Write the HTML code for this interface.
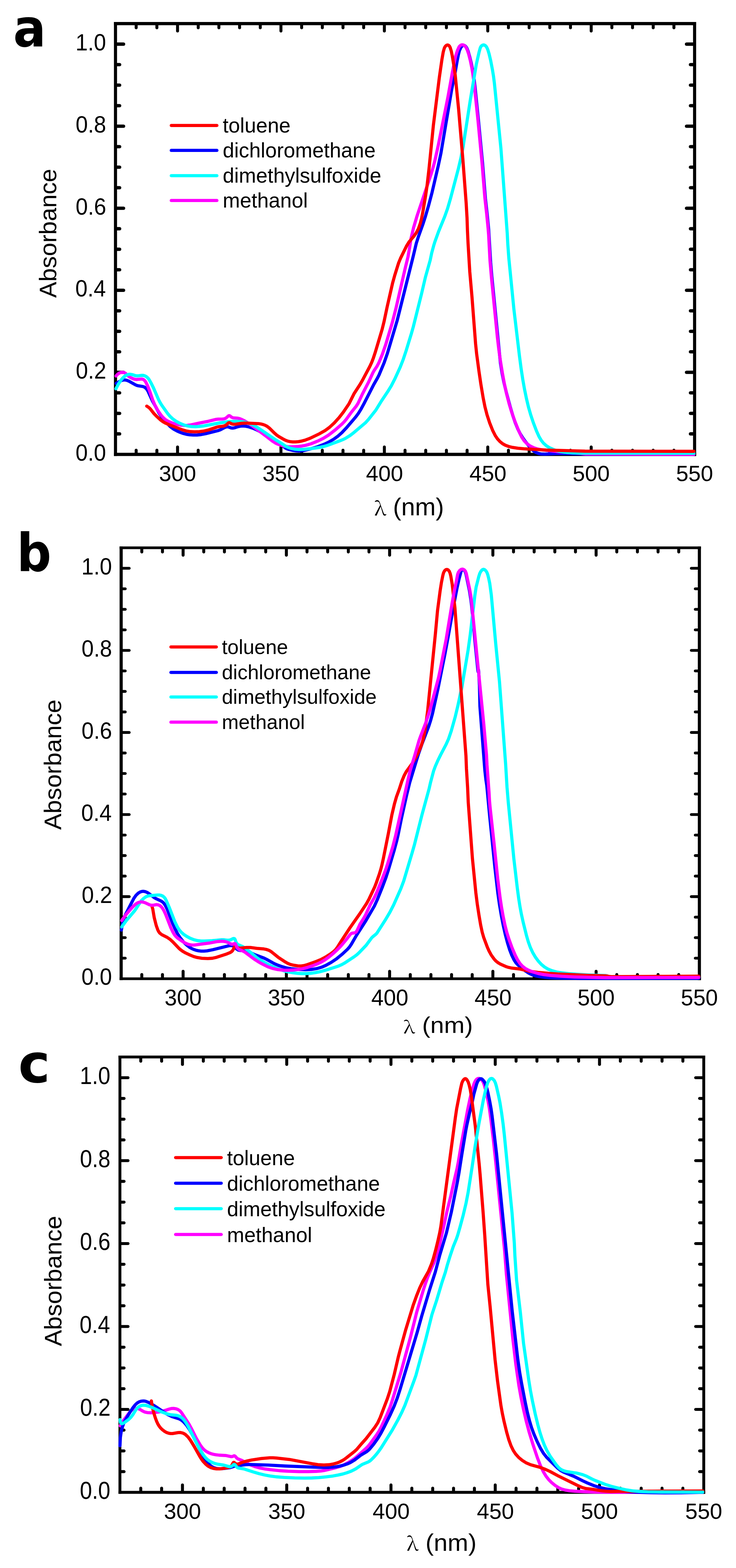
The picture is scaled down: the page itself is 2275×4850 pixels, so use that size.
<!DOCTYPE html>
<html><head><meta charset="utf-8"><title>Absorbance spectra</title>
<style>html,body{margin:0;padding:0;background:#fff;width:2275px;height:4850px;overflow:hidden}svg{display:block}text{font-kerning:none}</style></head>
<body><svg xmlns="http://www.w3.org/2000/svg" width="2275" height="4850" viewBox="0 0 2275 4850">
<rect width="100%" height="100%" fill="#fff"/>
<path d="M420.9 1400.9V1392.5M420.9 77.6V86.0M484.9 1400.9V1392.5M484.9 77.6V86.0M548.8 1400.9V1382.5M548.8 77.6V96.0M612.7 1400.9V1392.5M612.7 77.6V86.0M676.6 1400.9V1392.5M676.6 77.6V86.0M740.6 1400.9V1392.5M740.6 77.6V86.0M804.5 1400.9V1392.5M804.5 77.6V86.0M868.4 1400.9V1382.5M868.4 77.6V96.0M932.4 1400.9V1392.5M932.4 77.6V86.0M996.3 1400.9V1392.5M996.3 77.6V86.0M1060.2 1400.9V1392.5M1060.2 77.6V86.0M1124.1 1400.9V1392.5M1124.1 77.6V86.0M1188.1 1400.9V1382.5M1188.1 77.6V96.0M1252.0 1400.9V1392.5M1252.0 77.6V86.0M1315.9 1400.9V1392.5M1315.9 77.6V86.0M1379.9 1400.9V1392.5M1379.9 77.6V86.0M1443.8 1400.9V1392.5M1443.8 77.6V86.0M1507.7 1400.9V1382.5M1507.7 77.6V96.0M1571.6 1400.9V1392.5M1571.6 77.6V86.0M1635.6 1400.9V1392.5M1635.6 77.6V86.0M1699.5 1400.9V1392.5M1699.5 77.6V86.0M1763.4 1400.9V1392.5M1763.4 77.6V86.0M1827.4 1400.9V1382.5M1827.4 77.6V96.0M1891.3 1400.9V1392.5M1891.3 77.6V86.0M1955.2 1400.9V1392.5M1955.2 77.6V86.0M2019.1 1400.9V1392.5M2019.1 77.6V86.0M2083.1 1400.9V1392.5M2083.1 77.6V86.0" stroke="#000" stroke-width="9.2" stroke-linecap="round" fill="none"/>
<path d="M362.1 1342.0H369.8M2141.8 1342.0H2134.2M362.1 1278.6H369.8M2141.8 1278.6H2134.2M362.1 1215.1H369.8M2141.8 1215.1H2134.2M362.1 1151.7H382.0M2141.8 1151.7H2122.0M362.1 1088.2H369.8M2141.8 1088.2H2134.2M362.1 1024.8H369.8M2141.8 1024.8H2134.2M362.1 961.3H369.8M2141.8 961.3H2134.2M362.1 897.9H382.0M2141.8 897.9H2122.0M362.1 834.4H369.8M2141.8 834.4H2134.2M362.1 771.0H369.8M2141.8 771.0H2134.2M362.1 707.5H369.8M2141.8 707.5H2134.2M362.1 644.1H382.0M2141.8 644.1H2122.0M362.1 580.6H369.8M2141.8 580.6H2134.2M362.1 517.2H369.8M2141.8 517.2H2134.2M362.1 453.7H369.8M2141.8 453.7H2134.2M362.1 390.3H382.0M2141.8 390.3H2122.0M362.1 326.8H369.8M2141.8 326.8H2134.2M362.1 263.4H369.8M2141.8 263.4H2134.2M362.1 199.9H369.8M2141.8 199.9H2134.2M362.1 136.5H382.0M2141.8 136.5H2122.0" stroke="#000" stroke-width="10.3" stroke-linecap="round" fill="none"/>
<path d="M352.2 73.0H2151.8M352.2 1405.5H2151.8" stroke="#000" stroke-width="9.8" fill="none"/>
<path d="M357.0 68.1V1410.4M2147.0 68.1V1410.4" stroke="#000" stroke-width="9.6" fill="none"/>
<path d="M359.1 1185.9L369.5 1179.8L376.8 1176.6L382.5 1175.2L388.3 1175.4L393.1 1176.7L398.5 1179.0L416.8 1189.3L422.2 1191.9L427.9 1193.4L441.6 1195.5L445.3 1196.8L448.6 1198.8L452.8 1202.9L457.2 1209.5L470.8 1239.6L482.1 1259.6L491.8 1278.1L500.3 1290.5L513.1 1305.9L526.3 1319.5L532.5 1324.5L539.2 1328.8L548.0 1333.5L557.2 1337.5L566.6 1340.8L576.3 1343.3L586.2 1344.9L597.1 1345.7L609.1 1345.5L621.1 1344.3L635.8 1341.5L673.6 1332.1L681.1 1329.3L694.3 1322.4L699.8 1320.4L705.4 1320.4L714.4 1323.6L719.1 1324.2L723.9 1323.5L736.3 1319.6L743.1 1318.2L751.0 1317.6L760.0 1318.4L769.7 1320.5L781.1 1324.3L792.1 1329.0L804.6 1335.4L838.0 1355.4L861.7 1368.3L868.0 1373.2L879.6 1384.0L885.4 1387.6L893.8 1390.5L905.5 1393.2L915.3 1394.7L924.3 1395.2L937.2 1394.0L955.7 1389.6L981.6 1381.9L1002.1 1374.1L1017.4 1366.8L1032.1 1358.1L1045.0 1348.7L1056.9 1338.1L1070.0 1324.2L1099.2 1290.1L1107.6 1278.9L1115.5 1266.1L1124.6 1249.4L1155.1 1189.7L1166.5 1169.8L1171.5 1160.0L1187.3 1122.2L1197.5 1092.9L1227.7 991.3L1277.1 793.3L1286.8 752.5L1292.9 733.4L1307.7 692.0L1314.5 671.1L1325.1 634.6L1335.3 595.9L1354.6 513.1L1362.9 474.0L1396.4 275.8L1407.3 221.8L1413.1 188.4L1416.8 169.7L1420.0 157.1L1424.0 148.0L1426.7 144.0L1429.2 141.4L1431.3 140.3L1433.6 140.1L1436.0 140.9L1438.9 143.1L1441.3 146.0L1443.3 149.4L1447.0 158.6L1451.7 175.0L1456.5 194.4L1461.3 218.9L1464.9 241.7L1468.3 268.4L1479.2 374.9L1491.5 503.3L1500.5 615.0L1505.8 661.7L1510.4 708.5L1516.6 811.3L1520.2 854.1L1546.8 1122.8L1552.1 1155.4L1557.6 1182.9L1564.9 1213.0L1576.9 1257.4L1585.1 1285.2L1592.8 1307.9L1600.4 1326.5L1608.0 1341.6L1615.4 1353.5L1624.1 1365.8L1636.4 1381.5L1644.4 1390.4L1650.4 1395.6L1657.2 1399.8L1664.6 1402.6L1672.4 1404.1L1684.4 1404.6L1718.3 1403.2L1745.3 1402.9L1788.3 1403.7L1811.9 1405.0L2145.0 1405.5" fill="none" stroke="#0000ff" stroke-width="9.8" stroke-linejoin="round" stroke-linecap="round"/>
<path d="M358.7 1163.0L364.1 1157.2L368.9 1153.9L374.4 1151.9L380.1 1151.7L383.9 1152.6L387.3 1154.3L399.7 1165.5L404.8 1168.5L412.1 1171.7L416.9 1173.2L421.7 1173.9L438.3 1172.4L441.9 1173.2L445.1 1175.1L447.8 1177.9L450.6 1181.9L456.3 1193.5L462.2 1208.4L472.2 1237.7L478.5 1252.4L487.0 1268.3L497.1 1283.1L501.6 1288.6L506.4 1293.5L511.8 1298.0L517.7 1301.8L524.8 1305.4L532.2 1308.4L540.8 1311.1L550.5 1313.5L560.3 1315.1L570.3 1315.9L579.2 1315.7L589.1 1314.5L614.5 1308.9L640.0 1303.9L666.2 1297.4L674.2 1296.4L688.1 1296.1L692.9 1295.5L696.6 1294.2L699.0 1292.7L706.4 1286.1L709.0 1285.6L711.0 1286.5L715.8 1290.3L719.1 1292.0L722.9 1292.7L733.7 1293.3L740.5 1294.8L748.8 1298.1L760.2 1304.3L780.2 1317.5L822.7 1349.3L842.4 1364.6L853.4 1371.5L861.6 1374.9L879.8 1380.2L888.7 1381.7L899.7 1382.1L922.6 1380.8L934.5 1379.3L944.4 1377.5L961.6 1372.6L982.0 1364.3L1000.0 1355.5L1015.2 1346.0L1036.6 1329.5L1056.9 1311.7L1063.9 1304.6L1070.4 1296.9L1085.5 1275.8L1100.6 1257.2L1106.5 1248.0L1120.1 1219.0L1139.0 1182.6L1152.8 1152.6L1156.2 1146.6L1165.1 1133.3L1171.1 1121.8L1181.8 1095.9L1192.3 1065.7L1212.3 998.6L1223.8 954.0L1252.3 830.3L1260.9 795.3L1267.0 760.9L1270.3 738.1L1278.4 704.1L1289.5 666.7L1332.8 537.8L1339.1 516.7L1344.8 494.4L1354.9 448.5L1384.7 299.4L1398.7 221.7L1408.4 173.6L1413.8 156.5L1418.7 145.6L1421.0 142.6L1423.9 140.1L1427.1 138.7L1430.6 138.6L1433.1 139.4L1435.4 140.9L1438.2 143.5L1440.5 146.7L1444.4 154.7L1448.6 167.0L1453.8 187.3L1458.6 210.8L1462.3 233.5L1466.0 262.3L1477.6 373.7L1489.9 503.1L1498.6 610.8L1504.4 662.5L1508.8 707.3L1510.4 727.2L1514.6 806.1L1519.5 862.9L1537.3 1042.0L1541.7 1079.7L1546.8 1116.4L1552.9 1153.9L1559.3 1188.3L1566.2 1219.6L1573.7 1248.6L1581.8 1275.4L1591.0 1301.9L1603.6 1333.4L1612.3 1351.5L1620.0 1363.1L1628.2 1371.8L1638.6 1379.4L1650.3 1385.1L1661.7 1388.8L1674.4 1391.4L1729.1 1397.3L1757.0 1399.8L1791.9 1402.0L1804.1 1403.7L1810.0 1404.0L2145.0 1405.5" fill="none" stroke="#ff00ff" stroke-width="9.8" stroke-linejoin="round" stroke-linecap="round"/>
<path d="M358.3 1202.5L366.2 1187.4L374.6 1175.0L379.1 1169.7L383.3 1165.5L387.3 1162.5L391.5 1160.0L397.1 1158.1L401.9 1157.7L407.8 1158.5L418.2 1161.7L422.0 1162.5L426.9 1162.5L438.6 1160.8L442.5 1161.0L446.3 1161.9L450.7 1163.9L454.7 1166.8L458.8 1171.1L462.1 1176.0L467.4 1185.6L474.5 1200.0L489.6 1234.9L493.6 1242.9L499.8 1253.2L517.7 1278.5L525.4 1287.7L533.4 1295.1L543.9 1302.7L555.3 1309.1L567.3 1314.1L578.8 1317.3L591.6 1319.3L604.6 1319.8L615.6 1319.2L628.5 1317.7L681.5 1307.6L706.3 1304.3L721.3 1303.4L735.3 1303.5L747.2 1304.3L758.1 1306.1L766.7 1308.4L775.2 1311.6L783.3 1315.3L792.1 1320.1L807.2 1329.8L848.5 1358.1L867.2 1369.6L883.8 1380.6L890.1 1383.6L896.6 1386.0L903.4 1387.8L911.2 1389.3L924.2 1390.3L940.2 1389.8L966.0 1387.2L987.8 1383.9L999.5 1381.4L1010.1 1378.4L1051.4 1363.2L1059.7 1359.8L1067.8 1355.9L1082.2 1347.0L1091.7 1339.7L1129.2 1308.1L1138.7 1297.8L1161.6 1268.8L1178.8 1240.7L1198.3 1211.6L1209.3 1193.7L1220.7 1171.5L1236.9 1136.0L1246.0 1112.7L1255.2 1085.2L1271.9 1030.7L1277.6 1010.5L1303.0 908.6L1314.8 858.0L1329.7 805.0L1334.4 782.6L1340.9 758.4L1344.2 748.0L1355.4 716.9L1374.7 669.7L1383.4 645.2L1392.1 615.4L1417.1 520.7L1425.1 486.6L1431.7 452.2L1453.5 310.9L1472.4 198.5L1480.8 161.4L1484.5 148.0L1486.7 143.7L1489.3 141.0L1492.3 139.3L1495.6 139.0L1498.1 139.8L1500.4 141.2L1502.4 143.2L1504.6 146.4L1507.8 153.6L1511.6 166.0L1516.7 187.4L1522.0 214.9L1525.4 235.6L1528.2 257.5L1548.3 458.5L1567.9 721.8L1569.6 754.7L1572.9 799.6L1588.5 956.8L1605.5 1099.8L1610.7 1139.5L1615.8 1173.1L1621.4 1204.6L1627.3 1233.0L1633.6 1259.3L1640.5 1283.3L1648.4 1307.0L1658.4 1333.2L1666.2 1350.5L1672.8 1361.7L1679.5 1370.3L1687.6 1377.7L1696.7 1383.9L1708.4 1389.5L1720.6 1393.8L1735.2 1397.2L1751.1 1399.4L1771.0 1400.9L1795.0 1401.6L2145.0 1402.0" fill="none" stroke="#00ffff" stroke-width="9.8" stroke-linejoin="round" stroke-linecap="round"/>
<path d="M453.5 1256.2L459.4 1260.0L463.8 1263.9L476.2 1279.6L483.0 1286.7L496.2 1298.8L504.2 1304.7L512.1 1309.1L522.2 1313.5L563.2 1329.3L574.7 1332.8L587.5 1335.0L601.4 1335.7L616.4 1335.1L631.2 1333.1L645.8 1329.5L671.3 1320.8L678.2 1319.5L689.1 1318.3L693.8 1317.2L699.0 1314.6L705.8 1308.4L708.2 1307.3L710.1 1307.7L716.9 1311.4L722.5 1312.3L729.4 1311.9L746.2 1309.3L755.1 1308.6L767.1 1308.8L799.1 1310.4L807.0 1311.5L813.7 1313.2L820.2 1315.7L825.5 1318.6L833.3 1324.7L847.4 1338.8L854.9 1345.4L861.4 1350.0L876.9 1359.0L883.2 1362.1L889.7 1364.5L896.5 1366.0L904.5 1366.9L913.4 1366.9L922.4 1366.1L933.2 1364.1L942.9 1361.5L959.6 1355.1L987.6 1341.6L1004.9 1331.7L1018.6 1321.7L1033.3 1308.1L1048.1 1291.8L1061.5 1274.4L1078.9 1248.8L1094.5 1217.5L1113.0 1189.0L1120.5 1176.0L1143.0 1133.6L1148.9 1121.0L1154.3 1106.9L1159.6 1090.8L1181.1 1018.9L1187.1 994.7L1196.8 948.7L1213.5 875.6L1220.2 851.5L1231.8 814.2L1238.2 798.5L1257.1 760.0L1264.5 748.2L1280.0 729.8L1286.8 720.0L1293.6 706.7L1299.2 690.6L1303.2 675.1L1306.8 656.5L1315.1 608.2L1319.9 575.5L1326.0 522.9L1339.7 386.6L1358.0 239.7L1366.1 183.3L1370.1 160.7L1373.3 149.2L1375.5 144.8L1377.9 141.8L1380.7 139.7L1383.9 139.1L1386.1 139.8L1388.1 141.4L1389.8 143.6L1391.5 147.0L1395.0 158.4L1398.0 173.1L1403.9 208.6L1407.1 232.4L1417.6 337.9L1430.6 491.3L1440.9 627.9L1443.6 673.9L1444.9 712.8L1446.8 752.8L1452.1 840.6L1458.9 918.3L1470.0 1062.9L1473.3 1094.7L1480.6 1149.2L1486.3 1187.8L1493.4 1230.2L1499.1 1258.7L1505.4 1282.9L1513.4 1307.6L1523.0 1331.8L1531.1 1347.8L1537.9 1357.6L1545.3 1365.7L1553.8 1372.6L1562.5 1377.4L1572.8 1381.2L1584.5 1383.9L1600.3 1386.4L1619.2 1388.2L1689.1 1392.1L1808.0 1395.5L2145.0 1396.0" fill="none" stroke="#ff0000" stroke-width="9.8" stroke-linejoin="round" stroke-linecap="round"/>
<text font-family="'Liberation Sans', Arial, sans-serif" font-size="100" transform="matrix(0.6793 0 0 0.7274 233.43 1425.04)">0.0</text>
<text font-family="'Liberation Sans', Arial, sans-serif" font-size="100" transform="matrix(0.6793 0 0 0.7274 234.19 1171.23)">0.2</text>
<text font-family="'Liberation Sans', Arial, sans-serif" font-size="100" transform="matrix(0.6793 0 0 0.7274 232.76 917.42)">0.4</text>
<text font-family="'Liberation Sans', Arial, sans-serif" font-size="100" transform="matrix(0.6793 0 0 0.7274 233.76 663.61)">0.6</text>
<text font-family="'Liberation Sans', Arial, sans-serif" font-size="100" transform="matrix(0.6793 0 0 0.7274 233.72 409.80)">0.8</text>
<text font-family="'Liberation Sans', Arial, sans-serif" font-size="100" transform="matrix(0.6793 0 0 0.7274 233.43 155.99)">1.0</text>
<text font-family="'Liberation Sans', Arial, sans-serif" font-size="100" transform="matrix(0.6869 0 0 0.6921 491.52 1487.52)">300</text>
<text font-family="'Liberation Sans', Arial, sans-serif" font-size="100" transform="matrix(0.6869 0 0 0.6921 811.16 1487.52)">350</text>
<text font-family="'Liberation Sans', Arial, sans-serif" font-size="100" transform="matrix(0.6869 0 0 0.6921 1131.33 1487.52)">400</text>
<text font-family="'Liberation Sans', Arial, sans-serif" font-size="100" transform="matrix(0.6869 0 0 0.6921 1450.97 1487.52)">450</text>
<text font-family="'Liberation Sans', Arial, sans-serif" font-size="100" transform="matrix(0.6869 0 0 0.6921 1770.02 1487.52)">500</text>
<text font-family="'Liberation Sans', Arial, sans-serif" font-size="100" transform="matrix(0.6869 0 0 0.6921 2089.67 1487.52)">550</text>
<text font-family="'Noto Serif CJK SC', serif" font-size="100" transform="matrix(0.6383 0 0 0.5817 1156.93 1594.03)">λ</text>
<text font-family="'Liberation Sans', Arial, sans-serif" font-size="100" transform="matrix(0.7674 0 0 0.7589 1214.64 1594.19)">(nm)</text>
<text font-family="'Liberation Sans', Arial, sans-serif" font-size="100" transform="matrix(0 -0.7474 0.7326 0 173.58 921.15)">Absorbance</text>
<path d="M529.4 388.1H670.4" stroke="#ff0000" stroke-width="9.8" stroke-linecap="round"/>
<text font-family="'Liberation Sans', Arial, sans-serif" font-size="100" transform="matrix(0.6390 0 0 0.6390 688.53 409.50)">toluene</text>
<path d="M529.4 465.2H670.4" stroke="#0000ff" stroke-width="9.8" stroke-linecap="round"/>
<text font-family="'Liberation Sans', Arial, sans-serif" font-size="100" transform="matrix(0.6390 0 0 0.6390 688.53 486.60)">dichloromethane</text>
<path d="M529.4 543.4H670.4" stroke="#00ffff" stroke-width="9.8" stroke-linecap="round"/>
<text font-family="'Liberation Sans', Arial, sans-serif" font-size="100" transform="matrix(0.6390 0 0 0.6390 688.53 564.80)">dimethylsulfoxide</text>
<path d="M529.4 620.2H670.4" stroke="#ff00ff" stroke-width="9.8" stroke-linecap="round"/>
<text font-family="'Liberation Sans', Arial, sans-serif" font-size="100" transform="matrix(0.6390 0 0 0.6390 688.53 641.60)">methanol</text>
<text font-family="'DejaVu Sans', sans-serif" font-weight="bold" font-size="100" transform="matrix(1.5039 0 0 1.6300 40.74 144.19)">a</text>
<path d="M438.3 3022.7V3014.3M438.3 1698.9V1707.3M502.2 3022.7V3014.3M502.2 1698.9V1707.3M566.0 3022.7V3004.3M566.0 1698.9V1717.3M629.8 3022.7V3014.3M629.8 1698.9V1707.3M693.7 3022.7V3014.3M693.7 1698.9V1707.3M757.5 3022.7V3014.3M757.5 1698.9V1707.3M821.3 3022.7V3014.3M821.3 1698.9V1707.3M885.2 3022.7V3004.3M885.2 1698.9V1717.3M949.0 3022.7V3014.3M949.0 1698.9V1707.3M1012.8 3022.7V3014.3M1012.8 1698.9V1707.3M1076.7 3022.7V3014.3M1076.7 1698.9V1707.3M1140.5 3022.7V3014.3M1140.5 1698.9V1707.3M1204.3 3022.7V3004.3M1204.3 1698.9V1717.3M1268.2 3022.7V3014.3M1268.2 1698.9V1707.3M1332.0 3022.7V3014.3M1332.0 1698.9V1707.3M1395.8 3022.7V3014.3M1395.8 1698.9V1707.3M1459.6 3022.7V3014.3M1459.6 1698.9V1707.3M1523.5 3022.7V3004.3M1523.5 1698.9V1717.3M1587.3 3022.7V3014.3M1587.3 1698.9V1707.3M1651.1 3022.7V3014.3M1651.1 1698.9V1707.3M1715.0 3022.7V3014.3M1715.0 1698.9V1707.3M1778.8 3022.7V3014.3M1778.8 1698.9V1707.3M1842.6 3022.7V3004.3M1842.6 1698.9V1717.3M1906.5 3022.7V3014.3M1906.5 1698.9V1707.3M1970.3 3022.7V3014.3M1970.3 1698.9V1707.3M2034.1 3022.7V3014.3M2034.1 1698.9V1707.3M2098.0 3022.7V3014.3M2098.0 1698.9V1707.3" stroke="#000" stroke-width="9.2" stroke-linecap="round" fill="none"/>
<path d="M378.8 2963.8H387.3M2157.5 2963.8H2149.0M378.8 2900.3H387.3M2157.5 2900.3H2149.0M378.8 2836.9H387.3M2157.5 2836.9H2149.0M378.8 2773.4H399.5M2157.5 2773.4H2136.8M378.8 2709.9H387.3M2157.5 2709.9H2149.0M378.8 2646.4H387.3M2157.5 2646.4H2149.0M378.8 2583.0H387.3M2157.5 2583.0H2149.0M378.8 2519.5H399.5M2157.5 2519.5H2136.8M378.8 2456.0H387.3M2157.5 2456.0H2149.0M378.8 2392.5H387.3M2157.5 2392.5H2149.0M378.8 2329.1H387.3M2157.5 2329.1H2149.0M378.8 2265.6H399.5M2157.5 2265.6H2136.8M378.8 2202.1H387.3M2157.5 2202.1H2149.0M378.8 2138.6H387.3M2157.5 2138.6H2149.0M378.8 2075.2H387.3M2157.5 2075.2H2149.0M378.8 2011.7H399.5M2157.5 2011.7H2136.8M378.8 1948.2H387.3M2157.5 1948.2H2149.0M378.8 1884.7H387.3M2157.5 1884.7H2149.0M378.8 1821.3H387.3M2157.5 1821.3H2149.0M378.8 1757.8H399.5M2157.5 1757.8H2136.8" stroke="#000" stroke-width="8.6" stroke-linecap="round" fill="none"/>
<path d="M369.6 1694.3H2166.7M369.6 3027.3H2166.7" stroke="#000" stroke-width="8.2" fill="none"/>
<path d="M374.5 1690.2V3031.4M2161.8 1690.2V3031.4" stroke="#000" stroke-width="9.7" fill="none"/>
<path d="M375.2 2876.8L379.0 2854.1L381.2 2845.4L383.9 2837.9L388.8 2827.0L413.6 2779.0L420.4 2769.2L427.6 2762.4L431.8 2759.8L435.4 2758.2L440.1 2757.1L444.0 2757.0L449.7 2758.1L456.0 2761.0L461.0 2764.3L476.0 2775.9L482.9 2779.9L498.2 2787.1L502.3 2789.9L505.9 2793.3L511.0 2800.5L516.4 2811.3L533.7 2856.0L541.3 2873.5L548.1 2886.8L555.5 2898.7L566.6 2912.8L572.9 2919.3L579.6 2925.2L586.0 2930.0L592.0 2933.6L599.2 2936.9L605.8 2939.2L613.6 2940.9L621.6 2941.8L630.5 2941.9L639.5 2941.1L658.1 2937.5L705.7 2925.7L712.6 2924.7L717.3 2925.0L720.0 2925.8L723.3 2927.8L731.1 2935.2L735.9 2938.4L742.5 2940.0L757.2 2940.2L763.8 2942.0L785.5 2952.0L816.4 2963.6L824.4 2967.6L848.0 2980.7L859.0 2985.5L871.3 2989.8L885.7 2993.9L899.5 2996.3L926.3 2998.9L945.3 2999.6L962.3 2998.7L979.0 2996.0L993.4 2991.9L1007.2 2986.0L1023.8 2976.7L1040.4 2965.6L1058.2 2951.0L1074.3 2936.0L1080.2 2929.2L1085.8 2921.0L1101.3 2894.1L1130.9 2847.8L1157.0 2802.9L1165.8 2783.8L1182.6 2742.1L1192.4 2715.9L1199.5 2694.0L1218.0 2631.7L1226.1 2601.7L1231.2 2579.3L1240.7 2532.3L1256.8 2460.0L1266.8 2419.2L1293.7 2331.3L1304.0 2302.0L1325.1 2246.9L1331.2 2227.9L1337.0 2206.6L1354.2 2128.5L1375.2 2023.6L1386.0 1965.6L1403.9 1864.1L1412.7 1819.0L1418.8 1791.6L1425.1 1767.5L1427.2 1762.9L1428.8 1761.6L1430.1 1761.4L1432.9 1762.4L1436.1 1765.5L1438.5 1769.7L1440.3 1775.4L1451.1 1827.2L1455.3 1853.9L1457.8 1873.7L1464.2 1936.4L1467.6 1978.3L1477.1 2073.6L1477.9 2078.1L1478.9 2071.6L1479.6 2075.9L1482.0 2121.6L1483.4 2184.6L1498.7 2383.0L1501.9 2411.8L1504.7 2430.2L1513.5 2523.8L1529.7 2683.0L1538.7 2761.5L1543.6 2796.1L1549.4 2830.7L1555.5 2862.1L1561.9 2890.4L1568.5 2915.5L1575.3 2937.5L1582.1 2955.2L1589.2 2969.6L1595.3 2978.7L1601.5 2985.1L1623.3 3002.6L1635.0 3010.3L1644.9 3015.0L1655.4 3018.4L1668.1 3021.0L1684.9 3023.2L1702.9 3024.5L1722.9 3025.4L1792.9 3026.3L2159.8 3026.0" fill="none" stroke="#0000ff" stroke-width="9.8" stroke-linejoin="round" stroke-linecap="round"/>
<path d="M376.1 2867.2L391.4 2846.2L416.1 2817.3L421.2 2810.0L433.4 2790.5L438.4 2784.3L444.1 2778.7L451.4 2773.6L458.8 2770.9L486.6 2768.3L493.5 2768.4L499.2 2769.8L503.6 2772.0L507.3 2775.1L510.4 2778.9L514.1 2785.9L524.1 2808.9L540.7 2851.7L548.2 2867.0L553.5 2875.4L559.9 2883.1L567.3 2889.7L576.4 2895.9L587.8 2902.1L598.9 2906.5L610.6 2909.4L621.5 2910.6L632.4 2910.6L655.4 2909.6L685.3 2906.8L691.2 2906.9L702.1 2908.1L707.0 2908.2L712.7 2907.0L721.0 2903.0L723.8 2902.9L725.0 2903.6L726.4 2905.4L730.4 2916.0L733.9 2920.4L738.0 2922.9L749.9 2927.8L755.9 2931.4L774.1 2945.3L792.3 2960.9L802.1 2967.9L820.2 2978.5L841.6 2989.3L859.1 2996.7L877.1 3002.7L891.6 3006.4L905.4 3009.0L919.3 3010.7L933.2 3011.5L947.2 3011.4L961.2 3010.4L975.1 3008.5L988.8 3005.7L1007.1 3000.7L1035.7 2991.7L1047.1 2987.8L1056.2 2983.8L1066.6 2977.9L1095.0 2959.2L1103.0 2953.2L1109.6 2947.1L1131.7 2924.0L1148.8 2900.8L1152.4 2897.4L1161.6 2889.9L1165.0 2886.3L1190.8 2845.9L1205.1 2821.8L1216.5 2799.6L1238.8 2749.3L1247.9 2725.0L1273.6 2638.8L1281.3 2611.8L1304.5 2519.7L1326.6 2438.7L1330.8 2420.2L1340.0 2385.4L1345.5 2370.4L1353.5 2352.1L1361.9 2335.0L1379.0 2302.2L1386.4 2285.8L1394.8 2261.2L1407.2 2216.9L1415.5 2181.9L1427.9 2124.2L1446.9 2010.8L1453.3 1965.2L1467.4 1845.1L1471.6 1816.4L1479.9 1783.4L1482.9 1773.9L1485.6 1768.6L1489.0 1764.0L1491.8 1761.7L1494.7 1760.9L1498.4 1762.3L1501.8 1765.5L1505.0 1770.4L1507.5 1776.9L1510.9 1790.4L1513.9 1805.1L1518.6 1839.8L1532.1 1989.2L1543.9 2108.6L1563.0 2364.9L1567.2 2434.8L1571.1 2481.6L1588.4 2656.8L1598.9 2746.1L1603.4 2779.8L1607.3 2804.5L1611.5 2827.1L1617.1 2852.5L1627.0 2892.3L1632.8 2912.5L1639.2 2930.4L1646.8 2946.7L1654.9 2960.5L1663.8 2972.6L1673.2 2982.9L1683.2 2991.1L1693.5 2997.2L1705.5 3002.2L1719.9 3006.2L1735.6 3009.1L1757.5 3011.6L1794.4 3014.3L1825.4 3015.9L1872.2 3017.5L1877.4 3018.6L1884.4 3022.2L1889.9 3022.9L2159.8 3022.5" fill="none" stroke="#00ffff" stroke-width="9.8" stroke-linejoin="round" stroke-linecap="round"/>
<path d="M469.4 2802.2L472.4 2812.7L476.7 2838.3L482.9 2862.6L487.9 2876.7L490.7 2881.9L493.6 2885.9L499.7 2890.8L515.7 2898.8L525.7 2905.5L534.5 2913.6L553.0 2933.2L558.3 2937.8L563.9 2941.9L574.3 2947.9L587.9 2954.3L599.1 2958.7L609.6 2961.7L624.4 2964.1L642.4 2964.9L656.3 2964.0L669.0 2961.2L701.3 2950.6L712.2 2945.9L716.3 2943.1L718.9 2940.3L720.9 2937.0L724.0 2930.2L725.4 2928.5L726.5 2928.0L729.2 2928.3L736.4 2931.9L741.1 2932.8L761.8 2930.7L773.8 2930.7L793.6 2933.4L815.5 2935.2L822.3 2936.5L828.0 2938.2L833.5 2940.6L838.6 2943.7L861.1 2961.9L882.0 2975.6L889.8 2980.0L897.2 2983.0L906.9 2985.4L920.7 2987.6L930.7 2987.9L939.5 2986.7L950.1 2983.7L976.5 2974.3L993.1 2967.4L1005.4 2960.8L1022.3 2950.1L1031.1 2943.5L1037.5 2937.2L1043.5 2929.2L1054.6 2911.4L1081.9 2869.5L1112.3 2826.1L1132.7 2795.3L1140.5 2781.2L1157.9 2744.2L1163.3 2730.2L1172.8 2702.8L1176.9 2689.4L1180.5 2675.8L1185.0 2655.3L1200.5 2577.8L1211.2 2520.8L1219.2 2486.7L1225.5 2464.6L1234.4 2440.2L1241.7 2417.4L1249.3 2398.9L1255.9 2386.6L1273.5 2362.4L1285.3 2342.6L1292.1 2329.3L1297.9 2316.5L1302.3 2305.4L1306.0 2294.0L1309.7 2279.4L1313.1 2261.7L1317.9 2229.1L1322.0 2197.3L1345.8 1960.5L1352.4 1888.8L1360.2 1829.3L1364.5 1801.6L1368.6 1781.0L1370.5 1773.3L1372.8 1767.8L1375.6 1764.0L1378.5 1761.9L1381.6 1761.3L1385.3 1762.8L1388.8 1767.1L1391.4 1773.5L1393.5 1782.2L1397.8 1807.8L1406.2 1880.4L1440.3 2338.2L1441.8 2377.2L1445.4 2436.1L1447.4 2482.1L1460.3 2655.6L1470.8 2761.1L1475.2 2795.9L1480.5 2830.5L1485.7 2861.0L1490.5 2883.5L1495.2 2899.8L1506.4 2929.8L1511.7 2941.7L1518.4 2954.0L1527.1 2966.2L1531.8 2971.4L1536.2 2975.3L1541.1 2978.8L1547.1 2982.3L1563.6 2989.6L1572.1 2992.3L1579.9 2994.1L1605.7 2997.1L1636.9 3004.3L1662.7 3007.7L1695.5 3010.7L1724.5 3012.7L1820.4 3017.1L1871.3 3018.5L1876.1 3018.9L1884.0 3020.5L1889.8 3020.9L2159.8 3019.5" fill="none" stroke="#ff0000" stroke-width="9.8" stroke-linejoin="round" stroke-linecap="round"/>
<path d="M376.1 2847.4L390.2 2827.9L407.8 2807.5L418.6 2797.1L423.5 2793.7L427.9 2791.5L434.5 2789.8L438.4 2789.7L442.3 2790.3L448.9 2792.4L462.4 2798.8L468.0 2800.1L472.9 2800.0L483.5 2798.2L489.3 2798.9L493.7 2800.8L498.2 2804.4L502.0 2809.0L506.2 2815.8L512.1 2828.5L528.0 2869.5L534.0 2882.2L539.0 2890.8L544.0 2896.9L549.9 2902.3L561.4 2910.3L571.6 2916.5L578.9 2919.8L585.5 2921.9L592.4 2923.1L600.4 2923.2L645.9 2917.2L672.5 2912.3L685.4 2911.4L692.4 2911.9L699.2 2913.3L703.8 2914.9L712.7 2919.3L716.2 2920.5L719.5 2920.6L724.4 2918.6L726.0 2918.4L727.0 2918.9L728.2 2920.5L732.8 2930.7L734.5 2933.0L737.4 2935.6L741.6 2938.1L751.7 2942.2L756.9 2945.0L785.7 2966.6L797.4 2974.2L809.6 2981.2L827.5 2990.1L842.5 2995.5L859.1 2999.1L878.0 3001.0L892.0 3001.2L907.0 3000.5L921.9 2998.7L935.6 2996.2L950.1 2992.4L966.3 2987.2L981.2 2981.4L993.0 2975.8L1004.1 2969.2L1015.5 2961.1L1028.7 2950.3L1041.3 2938.9L1049.7 2930.4L1057.8 2921.5L1073.7 2902.2L1082.0 2891.0L1084.5 2888.3L1088.3 2886.4L1097.0 2885.4L1100.6 2883.0L1103.7 2878.2L1112.4 2859.2L1124.6 2839.7L1129.5 2831.0L1145.0 2797.4L1156.4 2777.6L1164.5 2760.4L1181.7 2717.8L1192.6 2688.7L1198.5 2670.7L1214.1 2619.0L1223.2 2583.1L1261.2 2411.2L1267.9 2383.0L1281.9 2337.1L1295.1 2291.0L1300.5 2275.9L1315.7 2236.7L1325.5 2207.3L1332.4 2183.3L1355.2 2097.3L1360.5 2072.8L1379.2 1976.6L1397.6 1865.1L1404.7 1825.7L1410.9 1796.4L1414.5 1776.8L1416.9 1770.3L1420.8 1764.7L1425.2 1761.3L1429.3 1760.3L1432.7 1761.2L1436.4 1764.0L1439.1 1767.9L1441.2 1773.4L1452.0 1824.2L1455.1 1843.0L1457.7 1862.8L1495.4 2239.9L1503.7 2334.6L1505.3 2365.6L1511.6 2450.3L1513.1 2477.3L1514.8 2496.2L1527.2 2609.6L1538.4 2718.0L1545.9 2777.5L1550.4 2807.2L1555.3 2834.8L1561.0 2862.2L1566.4 2883.5L1573.3 2905.4L1582.9 2931.8L1593.1 2955.7L1599.9 2969.0L1607.0 2979.9L1614.3 2988.1L1622.8 2994.9L1633.2 3000.8L1647.1 3006.4L1663.4 3011.1L1681.1 3014.6L1701.9 3017.2L1734.8 3019.6L1776.8 3021.8L1871.8 3024.0L2159.8 3023.5" fill="none" stroke="#ff00ff" stroke-width="9.8" stroke-linejoin="round" stroke-linecap="round"/>
<text font-family="'Liberation Sans', Arial, sans-serif" font-size="100" transform="matrix(0.6793 0 0 0.7246 251.63 3046.49)">0.0</text>
<text font-family="'Liberation Sans', Arial, sans-serif" font-size="100" transform="matrix(0.6793 0 0 0.7246 252.39 2792.59)">0.2</text>
<text font-family="'Liberation Sans', Arial, sans-serif" font-size="100" transform="matrix(0.6793 0 0 0.7246 250.96 2538.68)">0.4</text>
<text font-family="'Liberation Sans', Arial, sans-serif" font-size="100" transform="matrix(0.6793 0 0 0.7246 251.96 2284.78)">0.6</text>
<text font-family="'Liberation Sans', Arial, sans-serif" font-size="100" transform="matrix(0.6793 0 0 0.7246 251.92 2030.87)">0.8</text>
<text font-family="'Liberation Sans', Arial, sans-serif" font-size="100" transform="matrix(0.6793 0 0 0.7246 251.63 1776.97)">1.0</text>
<text font-family="'Liberation Sans', Arial, sans-serif" font-size="100" transform="matrix(0.6869 0 0 0.7006 508.73 3110.32)">300</text>
<text font-family="'Liberation Sans', Arial, sans-serif" font-size="100" transform="matrix(0.6869 0 0 0.7006 827.89 3110.32)">350</text>
<text font-family="'Liberation Sans', Arial, sans-serif" font-size="100" transform="matrix(0.6869 0 0 0.7006 1147.57 3110.32)">400</text>
<text font-family="'Liberation Sans', Arial, sans-serif" font-size="100" transform="matrix(0.6869 0 0 0.7006 1466.73 3110.32)">450</text>
<text font-family="'Liberation Sans', Arial, sans-serif" font-size="100" transform="matrix(0.6869 0 0 0.7006 1785.31 3110.32)">500</text>
<text font-family="'Liberation Sans', Arial, sans-serif" font-size="100" transform="matrix(0.6869 0 0 0.7006 2104.47 3110.32)">550</text>
<text font-family="'Noto Serif CJK SC', serif" font-size="100" transform="matrix(0.6170 0 0 0.5244 1246.98 3195.61)">λ</text>
<text font-family="'Liberation Sans', Arial, sans-serif" font-size="100" transform="matrix(0.7638 0 0 0.6955 1304.66 3195.30)">(nm)</text>
<text font-family="'Liberation Sans', Arial, sans-serif" font-size="100" transform="matrix(0 -0.7553 0.7449 0 189.37 2566.85)">Absorbance</text>
<path d="M528.3 2001.1H668.7" stroke="#ff0000" stroke-width="9.8" stroke-linecap="round"/>
<text font-family="'Liberation Sans', Arial, sans-serif" font-size="100" transform="matrix(0.6238 0 0 0.6238 685.66 2022.60)">toluene</text>
<path d="M528.3 2079.9H668.7" stroke="#0000ff" stroke-width="9.8" stroke-linecap="round"/>
<text font-family="'Liberation Sans', Arial, sans-serif" font-size="100" transform="matrix(0.6238 0 0 0.6238 685.66 2101.40)">dichloromethane</text>
<path d="M528.3 2155.9H668.7" stroke="#00ffff" stroke-width="9.8" stroke-linecap="round"/>
<text font-family="'Liberation Sans', Arial, sans-serif" font-size="100" transform="matrix(0.6238 0 0 0.6238 685.66 2177.40)">dimethylsulfoxide</text>
<path d="M528.3 2233.7H668.7" stroke="#ff00ff" stroke-width="9.8" stroke-linecap="round"/>
<text font-family="'Liberation Sans', Arial, sans-serif" font-size="100" transform="matrix(0.6238 0 0 0.6238 685.66 2255.20)">methanol</text>
<text font-family="'DejaVu Sans', sans-serif" font-weight="bold" font-size="100" transform="matrix(1.4960 0 0 1.6177 51.74 1766.11)">b</text>
<path d="M435.1 4611.4V4603.0M435.1 3274.0V3282.4M499.6 4611.4V4603.0M499.6 3274.0V3282.4M564.0 4611.4V4593.0M564.0 3274.0V3292.4M628.5 4611.4V4603.0M628.5 3274.0V3282.4M693.0 4611.4V4603.0M693.0 3274.0V3282.4M757.4 4611.4V4603.0M757.4 3274.0V3282.4M821.9 4611.4V4603.0M821.9 3274.0V3282.4M886.3 4611.4V4593.0M886.3 3274.0V3292.4M950.8 4611.4V4603.0M950.8 3274.0V3282.4M1015.2 4611.4V4603.0M1015.2 3274.0V3282.4M1079.7 4611.4V4603.0M1079.7 3274.0V3282.4M1144.1 4611.4V4603.0M1144.1 3274.0V3282.4M1208.5 4611.4V4593.0M1208.5 3274.0V3292.4M1273.0 4611.4V4603.0M1273.0 3274.0V3282.4M1337.5 4611.4V4603.0M1337.5 3274.0V3282.4M1401.9 4611.4V4603.0M1401.9 3274.0V3282.4M1466.4 4611.4V4603.0M1466.4 3274.0V3282.4M1530.8 4611.4V4593.0M1530.8 3274.0V3292.4M1595.2 4611.4V4603.0M1595.2 3274.0V3282.4M1659.7 4611.4V4603.0M1659.7 3274.0V3282.4M1724.2 4611.4V4603.0M1724.2 3274.0V3282.4M1788.6 4611.4V4603.0M1788.6 3274.0V3282.4M1853.1 4611.4V4593.0M1853.1 3274.0V3292.4M1917.5 4611.4V4603.0M1917.5 3274.0V3282.4M1982.0 4611.4V4603.0M1982.0 3274.0V3282.4M2046.4 4611.4V4603.0M2046.4 3274.0V3282.4M2110.8 4611.4V4603.0M2110.8 3274.0V3282.4" stroke="#000" stroke-width="9.2" stroke-linecap="round" fill="none"/>
<path d="M375.3 4551.9H383.5M2170.7 4551.9H2162.5M375.3 4487.8H383.5M2170.7 4487.8H2162.5M375.3 4423.6H383.5M2170.7 4423.6H2162.5M375.3 4359.5H395.7M2170.7 4359.5H2150.3M375.3 4295.4H383.5M2170.7 4295.4H2162.5M375.3 4231.3H383.5M2170.7 4231.3H2162.5M375.3 4167.1H383.5M2170.7 4167.1H2162.5M375.3 4103.0H395.7M2170.7 4103.0H2150.3M375.3 4038.9H383.5M2170.7 4038.9H2162.5M375.3 3974.8H383.5M2170.7 3974.8H2162.5M375.3 3910.6H383.5M2170.7 3910.6H2162.5M375.3 3846.5H395.7M2170.7 3846.5H2150.3M375.3 3782.4H383.5M2170.7 3782.4H2162.5M375.3 3718.3H383.5M2170.7 3718.3H2162.5M375.3 3654.1H383.5M2170.7 3654.1H2162.5M375.3 3590.0H395.7M2170.7 3590.0H2150.3M375.3 3525.9H383.5M2170.7 3525.9H2162.5M375.3 3461.8H383.5M2170.7 3461.8H2162.5M375.3 3397.6H383.5M2170.7 3397.6H2162.5M375.3 3333.5H395.7M2170.7 3333.5H2150.3" stroke="#000" stroke-width="9.2" stroke-linecap="round" fill="none"/>
<path d="M366.2 3269.4H2179.8M366.2 4616.0H2179.8" stroke="#000" stroke-width="8.8" fill="none"/>
<path d="M370.7 3265.0V4620.4M2175.3 3265.0V4620.4" stroke="#000" stroke-width="8.9" fill="none"/>
<path d="M371.6 4410.3L375.9 4402.3L380.1 4395.6L401.9 4366.9L408.3 4360.8L411.6 4358.7L415.2 4357.2L420.9 4356.1L426.7 4356.8L431.2 4358.6L441.4 4364.7L447.7 4367.6L455.5 4369.3L465.4 4369.9L479.4 4369.1L495.2 4366.7L505.9 4364.0L522.9 4358.4L529.7 4356.7L536.6 4356.3L544.4 4357.6L549.9 4359.7L554.1 4362.3L557.8 4365.5L561.5 4370.1L584.4 4405.4L591.6 4418.5L607.8 4450.6L618.5 4468.7L623.6 4476.1L628.8 4482.2L634.0 4486.8L639.7 4490.7L645.9 4493.9L652.5 4496.4L660.2 4498.5L668.0 4499.9L678.0 4501.0L698.9 4502.2L715.1 4505.6L718.4 4505.2L723.3 4503.0L725.2 4503.1L727.4 4504.7L732.2 4510.2L735.3 4512.4L749.0 4517.9L768.1 4528.6L787.6 4536.3L802.0 4540.4L816.7 4543.3L835.5 4545.9L864.4 4549.0L890.3 4550.7L925.3 4551.8L952.3 4551.9L977.3 4551.0L992.2 4549.8L1004.1 4548.1L1039.0 4539.4L1050.5 4536.1L1060.7 4532.0L1074.0 4525.1L1087.8 4516.9L1096.0 4511.2L1103.7 4504.9L1132.5 4478.8L1138.7 4472.3L1143.7 4466.2L1164.8 4437.0L1171.8 4426.1L1178.8 4412.8L1195.7 4376.5L1205.7 4352.5L1212.9 4330.7L1239.7 4242.7L1269.1 4134.6L1288.0 4058.9L1307.7 3992.8L1314.8 3970.9L1321.8 3951.1L1328.9 3933.5L1342.0 3904.4L1352.9 3872.2L1357.8 3853.8L1372.5 3789.5L1381.2 3748.4L1393.3 3699.9L1402.9 3655.9L1412.8 3614.1L1416.6 3594.4L1425.7 3540.2L1445.3 3434.0L1452.9 3397.8L1462.0 3363.0L1464.9 3353.4L1467.5 3346.9L1470.3 3341.7L1473.4 3338.1L1477.3 3335.9L1480.7 3335.6L1483.2 3336.4L1486.5 3338.3L1491.3 3343.1L1494.5 3349.1L1497.9 3359.6L1503.3 3379.9L1509.0 3407.3L1512.9 3429.9L1517.1 3460.7L1525.0 3525.2L1532.3 3593.8L1559.9 3869.4L1565.2 3940.2L1585.2 4141.2L1594.4 4219.7L1603.9 4286.0L1610.3 4321.5L1618.0 4358.7L1626.6 4395.7L1635.3 4428.5L1646.4 4464.9L1661.3 4509.5L1670.7 4533.7L1679.7 4552.6L1687.5 4565.5L1696.0 4576.6L1705.1 4585.8L1716.7 4595.2L1726.0 4601.1L1736.0 4605.6L1747.5 4608.9L1760.3 4611.1L1777.3 4612.6L1807.2 4614.0L1838.2 4615.0L1889.2 4615.8L2172.2 4615.8" fill="none" stroke="#ff00ff" stroke-width="9.8" stroke-linejoin="round" stroke-linecap="round"/>
<path d="M370.8 4471.8L372.1 4445.8L374.8 4427.0L379.4 4410.7L382.7 4402.3L386.6 4394.2L394.4 4380.3L403.8 4364.9L411.6 4353.3L417.8 4345.5L423.6 4340.0L429.5 4336.3L435.9 4334.0L442.8 4333.3L446.7 4333.6L451.5 4334.8L462.5 4339.5L479.7 4349.7L510.3 4370.4L518.8 4375.6L531.5 4381.6L554.3 4388.9L560.3 4392.3L566.5 4397.3L572.1 4403.0L577.2 4409.1L587.1 4424.1L597.1 4442.6L623.1 4494.5L630.4 4507.6L637.4 4518.5L644.8 4527.9L652.2 4534.6L659.9 4539.2L668.3 4542.0L679.2 4543.1L693.1 4542.1L711.9 4539.4L725.0 4535.0L730.8 4533.6L760.6 4530.4L772.5 4529.9L829.5 4531.7L880.4 4534.5L990.4 4538.8L1015.4 4539.0L1034.3 4537.7L1047.1 4535.6L1060.7 4532.3L1073.1 4528.2L1083.1 4523.7L1095.9 4516.0L1116.5 4500.2L1132.5 4490.8L1138.0 4486.5L1142.3 4482.5L1155.0 4467.1L1167.8 4449.2L1177.1 4433.8L1188.7 4411.7L1206.4 4375.8L1218.3 4349.4L1227.7 4325.1L1236.6 4297.5L1289.5 4121.2L1303.7 4070.1L1327.8 3989.7L1345.5 3934.4L1359.6 3881.3L1380.0 3813.3L1394.9 3750.0L1413.4 3657.8L1418.6 3628.3L1427.7 3569.9L1439.6 3497.9L1443.0 3480.2L1450.7 3445.1L1459.2 3411.1L1464.6 3384.7L1473.4 3352.9L1475.9 3346.4L1479.6 3340.6L1482.9 3337.6L1485.1 3336.7L1486.6 3336.6L1488.9 3337.3L1491.1 3338.8L1496.3 3344.5L1500.0 3351.5L1503.7 3361.8L1508.2 3379.2L1514.0 3407.7L1517.9 3429.3L1521.0 3451.1L1534.8 3568.3L1583.2 4055.0L1600.4 4203.0L1606.1 4243.6L1612.3 4279.1L1623.6 4338.0L1630.1 4368.4L1636.4 4393.6L1643.0 4415.6L1650.2 4435.3L1659.7 4457.4L1670.7 4479.8L1679.9 4495.3L1689.8 4507.8L1723.3 4540.7L1732.6 4548.3L1742.2 4553.5L1773.7 4566.4L1801.3 4580.4L1815.0 4586.7L1836.2 4595.4L1853.4 4600.9L1870.9 4604.8L1913.4 4611.6L1938.3 4613.9L1971.2 4615.8L2012.2 4617.2L2056.2 4617.7L2105.2 4617.3L2172.2 4615.9" fill="none" stroke="#0000ff" stroke-width="9.8" stroke-linejoin="round" stroke-linecap="round"/>
<path d="M467.9 4333.1L470.1 4346.9L472.5 4358.7L476.0 4372.2L480.1 4385.6L484.0 4395.9L487.7 4404.1L491.8 4410.9L496.7 4417.2L502.5 4422.7L508.9 4427.5L514.9 4430.9L521.5 4433.2L527.3 4434.2L533.3 4434.2L550.9 4431.2L557.8 4431.0L565.5 4432.8L569.0 4434.5L573.2 4437.1L581.1 4444.7L588.8 4455.1L600.2 4473.9L618.3 4506.2L623.2 4513.8L628.5 4521.0L636.0 4529.0L642.9 4534.7L650.7 4539.0L659.2 4541.8L669.1 4543.3L680.0 4543.3L691.9 4541.9L707.6 4538.8L712.0 4536.9L714.9 4534.6L717.1 4531.5L720.4 4525.0L721.7 4523.5L722.6 4523.2L724.1 4523.7L729.7 4528.2L733.8 4528.8L737.4 4527.9L745.5 4524.4L752.1 4522.2L764.6 4518.8L777.3 4516.0L808.0 4511.4L833.9 4509.1L843.8 4509.1L854.8 4509.8L894.6 4514.3L969.3 4528.2L983.1 4530.3L1001.0 4531.4L1019.0 4530.3L1029.8 4528.4L1040.4 4525.6L1049.8 4522.0L1057.8 4518.0L1064.6 4513.8L1071.8 4508.4L1095.3 4489.8L1102.7 4483.1L1117.5 4465.6L1131.5 4450.1L1157.7 4416.1L1167.5 4401.1L1175.1 4384.8L1197.2 4326.8L1204.7 4304.0L1218.7 4250.9L1230.9 4198.3L1236.2 4177.9L1253.7 4114.3L1277.3 4036.8L1287.4 4008.6L1297.4 3983.5L1306.4 3964.5L1324.5 3932.3L1334.0 3909.2L1339.6 3892.1L1347.2 3864.2L1353.4 3838.9L1359.3 3812.6L1362.8 3792.9L1407.5 3456.8L1411.6 3429.1L1423.6 3367.3L1427.4 3350.7L1429.5 3345.2L1432.5 3340.2L1435.7 3337.2L1437.7 3336.4L1439.0 3336.4L1441.0 3337.4L1443.4 3339.9L1447.2 3346.7L1450.0 3355.2L1453.7 3370.8L1457.2 3392.5L1469.3 3484.7L1481.2 3601.1L1484.2 3634.9L1493.2 3748.6L1498.4 3821.4L1508.0 3973.1L1514.9 4040.7L1530.3 4206.0L1537.9 4271.6L1548.3 4346.9L1552.7 4371.5L1558.1 4396.9L1566.1 4429.9L1572.7 4453.0L1579.5 4471.8L1586.9 4487.1L1594.2 4497.9L1603.5 4508.2L1615.1 4517.7L1627.0 4525.1L1639.8 4530.5L1669.7 4538.8L1686.5 4545.1L1701.0 4551.9L1723.9 4564.3L1786.6 4595.3L1799.4 4600.9L1809.9 4604.0L1831.7 4606.5L1860.3 4611.3L1874.2 4612.6L1888.2 4613.4L1914.2 4612.9L2172.2 4612.0" fill="none" stroke="#ff0000" stroke-width="9.8" stroke-linejoin="round" stroke-linecap="round"/>
<path d="M371.1 4391.1L372.2 4398.8L374.1 4402.4L375.9 4403.5L378.1 4403.6L383.0 4401.4L396.6 4391.4L404.6 4383.9L410.6 4376.0L420.5 4359.8L425.6 4353.8L429.5 4350.8L433.9 4348.5L438.6 4347.1L442.5 4346.5L451.3 4347.2L462.8 4350.6L473.9 4355.1L497.4 4366.3L517.0 4373.6L526.8 4375.8L544.6 4377.6L552.3 4379.7L557.6 4382.2L563.3 4386.3L568.2 4391.2L573.6 4398.4L581.7 4412.1L610.4 4469.4L622.0 4490.3L628.6 4500.3L634.9 4508.2L641.2 4514.4L647.6 4519.2L656.4 4523.9L665.8 4527.3L674.6 4529.2L691.4 4531.6L708.5 4536.5L712.2 4536.5L714.8 4535.8L717.2 4534.5L722.4 4530.1L724.7 4529.7L726.8 4531.2L731.8 4537.7L734.0 4539.5L736.4 4540.7L754.5 4543.7L782.9 4552.9L800.2 4558.0L817.7 4562.3L834.4 4565.4L854.2 4568.0L879.1 4569.9L911.1 4571.4L942.1 4571.8L964.1 4571.5L985.1 4570.3L1008.0 4568.2L1029.8 4565.3L1045.5 4562.4L1060.1 4559.1L1072.6 4555.4L1083.9 4551.2L1092.0 4547.4L1099.9 4543.1L1119.4 4529.7L1138.2 4522.0L1142.3 4519.6L1146.9 4515.9L1155.3 4507.5L1163.2 4498.5L1170.6 4489.0L1178.1 4478.4L1212.1 4424.1L1229.6 4392.7L1242.3 4367.7L1251.6 4346.7L1279.8 4270.8L1285.7 4253.8L1315.7 4143.8L1335.1 4066.2L1349.8 4021.5L1366.1 3966.9L1376.8 3934.6L1382.2 3914.4L1391.0 3885.7L1401.2 3855.3L1411.0 3831.3L1414.9 3819.9L1421.8 3795.9L1431.9 3758.2L1440.2 3723.2L1446.9 3688.8L1459.7 3606.8L1469.1 3542.5L1480.0 3477.4L1494.0 3402.7L1501.7 3368.6L1507.0 3350.3L1509.9 3344.0L1513.1 3339.2L1516.4 3336.3L1519.3 3335.7L1521.6 3336.3L1523.7 3337.7L1528.1 3342.8L1531.4 3350.0L1534.5 3360.5L1541.2 3389.8L1545.5 3411.3L1550.4 3442.0L1555.1 3476.6L1558.8 3509.4L1582.8 3752.3L1589.7 3844.0L1591.6 3885.0L1596.7 3959.8L1608.5 4060.1L1618.2 4154.6L1634.5 4269.5L1639.6 4301.1L1645.6 4332.5L1654.4 4373.6L1662.4 4406.7L1669.0 4430.8L1675.8 4451.7L1682.9 4470.4L1690.5 4486.7L1701.0 4504.9L1719.5 4531.0L1727.4 4540.0L1732.0 4543.8L1736.2 4546.4L1742.5 4549.3L1751.1 4551.7L1783.7 4556.7L1801.1 4561.3L1813.2 4566.0L1830.0 4574.9L1840.0 4579.4L1870.8 4591.3L1889.8 4597.4L1917.0 4604.3L1937.5 4608.7L1955.3 4611.4L1975.2 4613.1L2002.2 4614.3L2043.2 4615.0L2172.2 4615.3" fill="none" stroke="#00ffff" stroke-width="9.8" stroke-linejoin="round" stroke-linecap="round"/>
<text font-family="'Liberation Sans', Arial, sans-serif" font-size="100" transform="matrix(0.6793 0 0 0.7599 246.63 4635.66)">0.0</text>
<text font-family="'Liberation Sans', Arial, sans-serif" font-size="100" transform="matrix(0.6793 0 0 0.7599 247.39 4379.16)">0.2</text>
<text font-family="'Liberation Sans', Arial, sans-serif" font-size="100" transform="matrix(0.6793 0 0 0.7599 245.96 4122.67)">0.4</text>
<text font-family="'Liberation Sans', Arial, sans-serif" font-size="100" transform="matrix(0.6793 0 0 0.7599 246.96 3866.17)">0.6</text>
<text font-family="'Liberation Sans', Arial, sans-serif" font-size="100" transform="matrix(0.6793 0 0 0.7599 246.92 3609.68)">0.8</text>
<text font-family="'Liberation Sans', Arial, sans-serif" font-size="100" transform="matrix(0.6793 0 0 0.7599 246.63 3353.18)">1.0</text>
<text font-family="'Liberation Sans', Arial, sans-serif" font-size="100" transform="matrix(0.6869 0 0 0.6850 506.78 4698.03)">300</text>
<text font-family="'Liberation Sans', Arial, sans-serif" font-size="100" transform="matrix(0.6869 0 0 0.6850 829.03 4698.03)">350</text>
<text font-family="'Liberation Sans', Arial, sans-serif" font-size="100" transform="matrix(0.6869 0 0 0.6850 1151.80 4698.03)">400</text>
<text font-family="'Liberation Sans', Arial, sans-serif" font-size="100" transform="matrix(0.6869 0 0 0.6850 1474.05 4698.03)">450</text>
<text font-family="'Liberation Sans', Arial, sans-serif" font-size="100" transform="matrix(0.6869 0 0 0.6850 1795.72 4698.03)">500</text>
<text font-family="'Liberation Sans', Arial, sans-serif" font-size="100" transform="matrix(0.6869 0 0 0.6850 2117.97 4698.03)">550</text>
<text font-family="'Noto Serif CJK SC', serif" font-size="100" transform="matrix(0.6294 0 0 0.5805 1256.95 4796.43)">λ</text>
<text font-family="'Liberation Sans', Arial, sans-serif" font-size="100" transform="matrix(0.7674 0 0 0.7374 1315.24 4796.93)">(nm)</text>
<text font-family="'Liberation Sans', Arial, sans-serif" font-size="100" transform="matrix(0 -0.7559 0.7462 0 189.57 4164.05)">Absorbance</text>
<path d="M542.8 3580.6H683.8" stroke="#ff0000" stroke-width="9.8" stroke-linecap="round"/>
<text font-family="'Liberation Sans', Arial, sans-serif" font-size="100" transform="matrix(0.6390 0 0 0.6390 701.83 3603.70)">toluene</text>
<path d="M542.8 3659.8H683.8" stroke="#0000ff" stroke-width="9.8" stroke-linecap="round"/>
<text font-family="'Liberation Sans', Arial, sans-serif" font-size="100" transform="matrix(0.6390 0 0 0.6390 701.83 3682.90)">dichloromethane</text>
<path d="M542.8 3738.6H683.8" stroke="#00ffff" stroke-width="9.8" stroke-linecap="round"/>
<text font-family="'Liberation Sans', Arial, sans-serif" font-size="100" transform="matrix(0.6390 0 0 0.6390 701.83 3761.70)">dimethylsulfoxide</text>
<path d="M542.8 3818.4H683.8" stroke="#ff00ff" stroke-width="9.8" stroke-linecap="round"/>
<text font-family="'Liberation Sans', Arial, sans-serif" font-size="100" transform="matrix(0.6390 0 0 0.6390 701.83 3841.50)">methanol</text>
<text font-family="'DejaVu Sans', sans-serif" font-weight="bold" font-size="100" transform="matrix(1.6628 0 0 1.6666 56.56 3348.34)">c</text>
</svg></body></html>
